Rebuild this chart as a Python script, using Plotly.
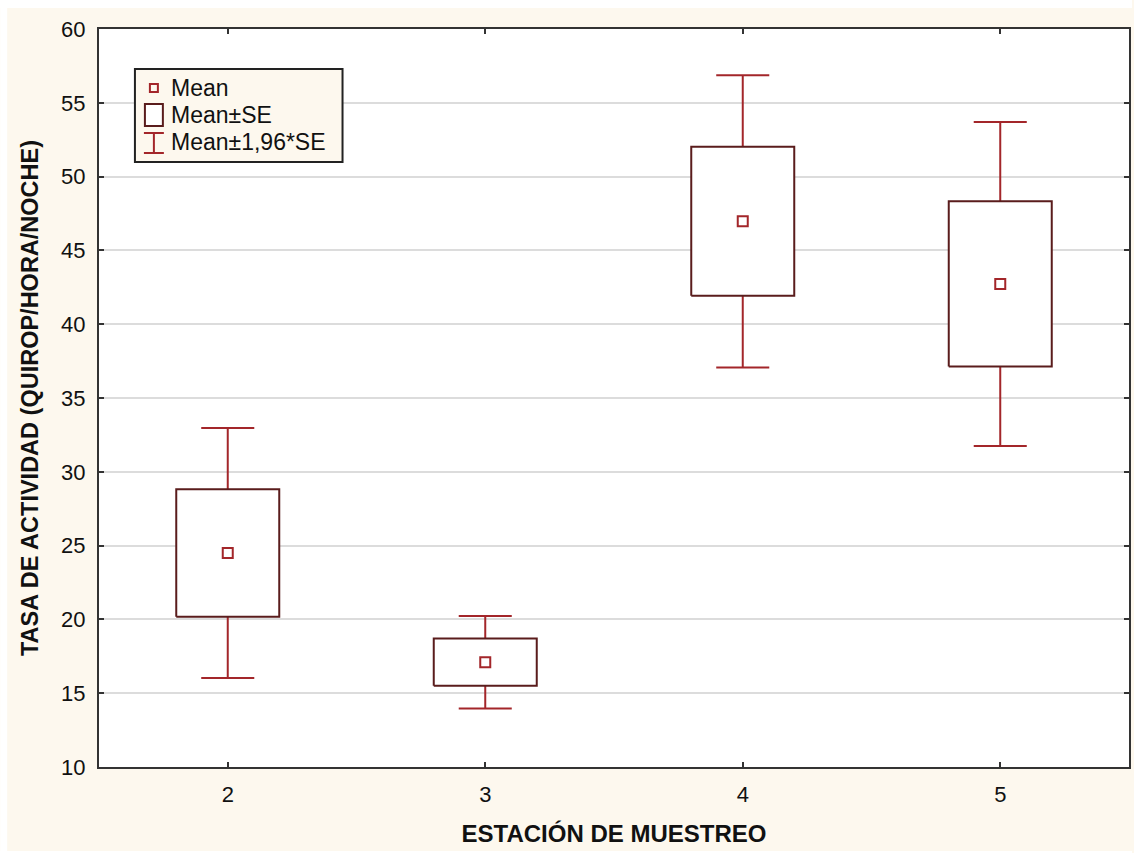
import plotly.graph_objects as go

# Activity rate per sampling station: mean and standard error
stations = [2, 3, 4, 5]
means = [24.5, 17.1, 46.97, 42.73]
std_err = [4.32, 1.6, 5.05, 5.6]
y_ticks = [10, 15, 20, 25, 30, 35, 40, 45, 50, 55, 60]

Z = 1.96
BOX_HALF = 0.2
CAP_HALF = 0.103

WHISKER = "#a3262a"
BOX_LINE = "#5a1c1c"
BEIGE = "#fdf8ee"
FONT = "Liberation Sans, Arial, sans-serif"

W, H = 1134, 853
L, R, T, B = 99, 3, 29, 86

# whiskers: from box edge out to mean ± 1.96*SE, with caps
wx, wy = [], []
for s, m, e in zip(stations, means, std_err):
    for sign in (1, -1):
        inner = m + sign * e
        outer = m + sign * Z * e
        wx += [s, s, None, s - CAP_HALF, s + CAP_HALF, None]
        wy += [inner, outer, None, outer, outer, None]

# boxes: mean ± SE
bx, by = [], []
for s, m, e in zip(stations, means, std_err):
    lo, hi = m - e, m + e
    bx += [s - BOX_HALF, s + BOX_HALF, s + BOX_HALF, s - BOX_HALF, s - BOX_HALF, None]
    by += [lo, lo, hi, hi, lo, None]

fig = go.Figure()
fig.add_trace(go.Scatter(x=wx, y=wy, mode="lines",
                         line=dict(color=WHISKER, width=2),
                         hoverinfo="skip", showlegend=False))
fig.add_trace(go.Scatter(x=bx, y=by, mode="lines", fill="toself",
                         fillcolor="white", line=dict(color=BOX_LINE, width=2),
                         hoverinfo="skip", showlegend=False))
fig.add_trace(go.Scatter(x=stations, y=means, mode="markers",
                         marker=dict(symbol="square-open", size=10,
                                     color=WHISKER, line=dict(width=2)),
                         showlegend=False))


def px_x(p):
    return (p - L) / (W - L - R)


def px_y(p):
    return (H - B - p) / (H - T - B)


shapes = [
    # white strips around the beige page
    dict(type="rect", xref="paper", yref="paper", x0=px_x(0), x1=px_x(7),
         y0=px_y(853), y1=px_y(0), fillcolor="white", line_width=0),
    dict(type="rect", xref="paper", yref="paper", x0=px_x(0), x1=px_x(1134),
         y0=px_y(8), y1=px_y(0), fillcolor="white", line_width=0),
    dict(type="rect", xref="paper", yref="paper", x0=px_x(0), x1=px_x(1134),
         y0=px_y(853), y1=px_y(851), fillcolor="white", line_width=0),
    # legend frame
    dict(type="rect", xref="paper", yref="paper", x0=px_x(135), x1=px_x(343),
         y0=px_y(162), y1=px_y(69), fillcolor=BEIGE,
         line=dict(color="#222222", width=2)),
    # legend: mean marker
    dict(type="rect", xref="paper", yref="paper", x0=px_x(150), x1=px_x(158),
         y0=px_y(92), y1=px_y(84), line=dict(color=WHISKER, width=2)),
    # legend: SE box
    dict(type="rect", xref="paper", yref="paper", x0=px_x(145), x1=px_x(163),
         y0=px_y(126), y1=px_y(104), fillcolor="white",
         line=dict(color=BOX_LINE, width=2)),
    # legend: whisker glyph
    dict(type="line", xref="paper", yref="paper", x0=px_x(154), x1=px_x(154),
         y0=px_y(153), y1=px_y(133), line=dict(color=WHISKER, width=2)),
    dict(type="line", xref="paper", yref="paper", x0=px_x(144), x1=px_x(164),
         y0=px_y(133), y1=px_y(133), line=dict(color=WHISKER, width=2)),
    dict(type="line", xref="paper", yref="paper", x0=px_x(144), x1=px_x(164),
         y0=px_y(153), y1=px_y(153), line=dict(color=WHISKER, width=2)),
]

legend_labels = ["Mean", "Mean±SE", "Mean±1,96*SE"]
legend_rows = [88, 115, 142]
annotations = [
    dict(text=t, xref="paper", yref="paper", x=px_x(169), y=px_y(r),
         xanchor="left", yanchor="middle", showarrow=False,
         font=dict(family=FONT, size=23, color="#111111"))
    for t, r in zip(legend_labels, legend_rows)
]

axis_common = dict(
    showline=True, linecolor="#333333", linewidth=2, mirror="ticks",
    ticks="inside", ticklen=5, tickwidth=1.5, tickcolor="#333333",
    tickfont=dict(family=FONT, size=22, color="#111111"),
    zeroline=False,
)

fig.update_layout(
    width=W, height=H,
    margin=dict(l=L, r=R, t=T, b=B),
    paper_bgcolor=BEIGE, plot_bgcolor="white",
    shapes=shapes, annotations=annotations,
    xaxis=dict(range=[1.5, 5.5], tickvals=stations,
               ticktext=[str(s) for s in stations], showgrid=False,
               ticklabelstandoff=7,
               title=dict(text="<b>ESTACIÓN DE MUESTREO</b>", standoff=19,
                          font=dict(family=FONT, size=24, color="#111111")),
               **axis_common),
    yaxis=dict(range=[10, 60], tickvals=y_ticks, showgrid=True,
               gridcolor="#dcdcdc", gridwidth=2, ticklabelstandoff=7,
               title=dict(text="<b>TASA DE ACTIVIDAD (QUIROP/HORA/NOCHE)</b>",
                          standoff=16,
                          font=dict(family=FONT, size=23.5, color="#111111")),
               **axis_common),
)

fig.write_html("out.html")
